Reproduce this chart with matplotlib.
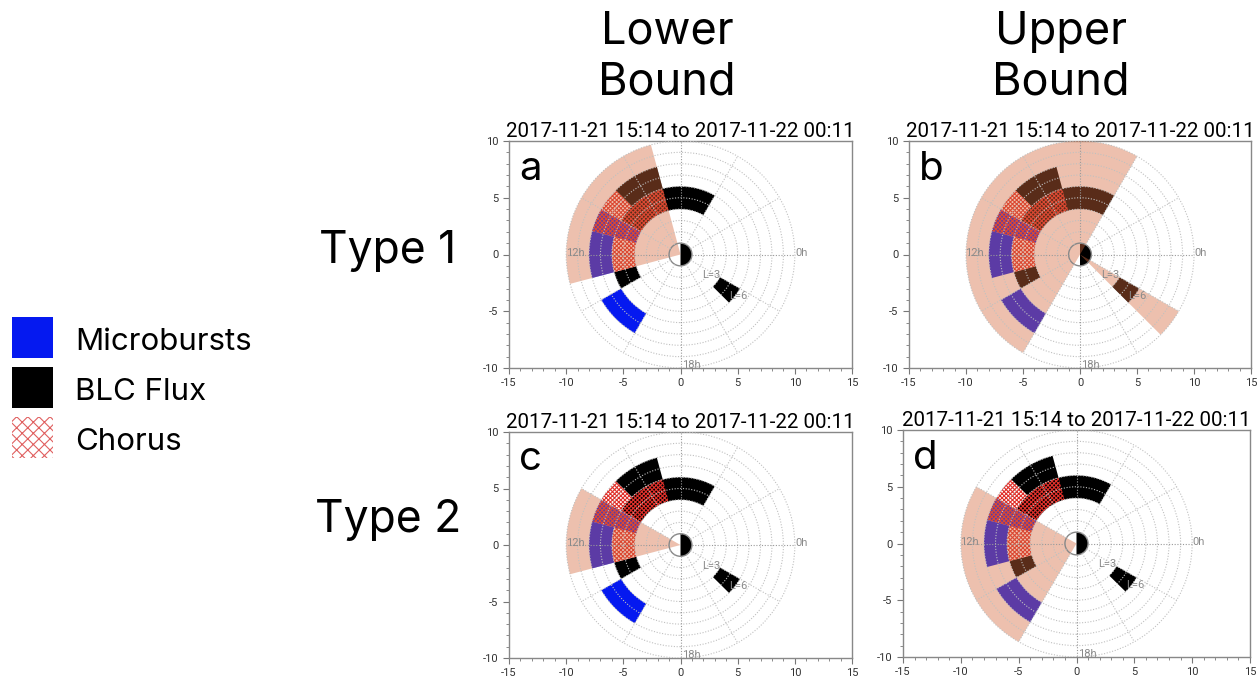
import matplotlib
matplotlib.use("Agg")
import matplotlib.pyplot as plt
from matplotlib.patches import Wedge, Rectangle, Circle
import numpy as np

# sectors are given as MLT start/end (hours) and L inner/outer
blc_mlt0 = [4, 7, 13, 21]
blc_mlt1 = [10, 9, 14, 22]
blc_l0 = [4, 6, 4, 4]
blc_l1 = [6, 8, 6, 6]

mb_mlt0 = [10, 11, 14]
mb_mlt1 = [11, 13, 16]
mb_l0 = [4, 6, 6]
mb_l1 = [8, 8, 8]

chorus_mlt0 = [7, 9]
chorus_mlt1 = [13, 11]
chorus_l0 = [4, 6]
chorus_l1 = [6, 8]

# MLT coverage of the conjunction window in each panel
cover_a = [(7, 13)]
cover_b = [(4, 16), (21, 22)]
cover_c = [(10, 13)]
cover_d = [(10, 16)]

panel_letters = ["a", "b", "c", "d"]
panel_title = "2017-11-21 15:14 to 2017-11-22 00:11"
col_titles = ["Lower\nBound", "Upper\nBound"]
row_titles = ["Type 1", "Type 2"]
legend_labels = ["Microbursts", "BLC Flux", "Chorus"]

BLUE = "#0519f0"
RED = "#e0302a"
TAN = (214 / 255, 107 / 255, 62 / 255)
GRID = "#c0c0c0"

plt.rcParams["axes.unicode_minus"] = False
plt.rcParams["hatch.linewidth"] = 0.8


def sector(ax, m0, m1, l0, l1, **kw):
    width = None if l0 == 0 else l1 - l0
    w = Wedge((0, 0), l1, m0 * 15, m1 * 15, width=width, **kw)
    ax.add_patch(w)


def dial(ax, cover, letter):
    for m0, m1, l0, l1 in zip(blc_mlt0, blc_mlt1, blc_l0, blc_l1):
        sector(ax, m0, m1, l0, l1, facecolor="black", edgecolor="none", zorder=2)
    for m0, m1, l0, l1 in zip(mb_mlt0, mb_mlt1, mb_l0, mb_l1):
        sector(ax, m0, m1, l0, l1, facecolor=BLUE, edgecolor="none", zorder=3)
    for m0, m1, l0, l1 in zip(chorus_mlt0, chorus_mlt1, chorus_l0, chorus_l1):
        sector(ax, m0, m1, l0, l1, facecolor="none", edgecolor=RED,
               linewidth=0, hatch="xxxxxxxx", zorder=4)
    # earth, night side dark
    sector(ax, 18, 30, 0, 1, facecolor="black", edgecolor="none", zorder=2)
    for m0, m1 in cover:
        sector(ax, m0, m1, 0, 10, facecolor=TAN, alpha=0.42,
               edgecolor="none", zorder=5)

    # polar grid
    for r in range(2, 11):
        ax.add_patch(Circle((0, 0), r, fill=False, edgecolor=GRID,
                            linestyle=(0, (1, 1.5)), linewidth=0.8, zorder=6))
    ax.add_patch(Circle((0, 0), 1, fill=False, edgecolor="#888888",
                        linewidth=1.0, zorder=6))
    for ang in range(0, 360, 30):
        t = np.deg2rad(ang)
        col = "#9a9a9a" if ang % 90 == 0 else GRID
        ax.plot([np.cos(t), 10 * np.cos(t)], [np.sin(t), 10 * np.sin(t)],
                color=col, linestyle=(0, (1, 1.5)), linewidth=0.8, zorder=6)

    lab = dict(color="#8a8a8a", fontsize=8, zorder=7, family="Roboto")
    ax.text(10.05, 0.15, "0h", ha="left", va="center", **lab)
    ax.text(-10.05, 0.15, "12h", ha="left", va="center", **lab)
    ax.text(0.1, -9.7, "18h", ha="left", va="center", **lab)
    t = np.deg2rad(-37.5)
    for L in (3, 6):
        ax.text(L * np.cos(t) + 0.3, L * np.sin(t), f"L={L}",
                ha="center", va="center", **lab)

    ax.text(0.03, 0.83, letter, transform=ax.transAxes, fontsize=29,
            family="Inter", va="baseline", ha="left", zorder=8)
    ax.set_title(panel_title, fontsize=14.8, family="Roboto", pad=3)

    ax.set_xlim(-15, 15)
    ax.set_ylim(-10, 10)
    ax.set_xticks(np.arange(-15, 16, 5))
    ax.set_yticks(np.arange(-10, 11, 5))
    ax.set_xticks(np.arange(-15, 16, 1), minor=True)
    ax.set_yticks(np.arange(-10, 11, 1), minor=True)
    ax.tick_params(which="both", direction="out", color="#777777",
                   labelsize=8, labelcolor="#333333")
    ax.tick_params(which="major", length=4)
    ax.tick_params(which="minor", length=2)
    for lbl in ax.get_xticklabels() + ax.get_yticklabels():
        lbl.set_family("Roboto")
    for s in ax.spines.values():
        s.set_color("#888888")
        s.set_linewidth(1.0)


fig = plt.figure(figsize=(12.6, 6.8), dpi=100)

# page-level axes in pixel units for the headings and key
page = fig.add_axes([0, 0, 1, 1])
page.set_xlim(0, 1260)
page.set_ylim(680, 0)
page.axis("off")

boxes = [
    [509 / 1260, 1 - 368 / 680, 343 / 1260, 227 / 680],
    [909 / 1260, 1 - 368 / 680, 342 / 1260, 227 / 680],
    [509 / 1260, 1 - 658 / 680, 343 / 1260, 226 / 680],
    [903 / 1260, 1 - 657 / 680, 347 / 1260, 227 / 680],
]
covers = [cover_a, cover_b, cover_c, cover_d]
for box, cover, letter in zip(boxes, covers, panel_letters):
    ax = fig.add_axes(box)
    dial(ax, cover, letter)

head = dict(fontsize=32.5, family="Inter", ha="center", va="center",
            multialignment="center", linespacing=1.25)
page.text(667, 57, col_titles[0], **head)
page.text(1061, 57, col_titles[1], **head)
page.text(388, 263, row_titles[0], fontsize=32, family="Inter",
          ha="center", va="baseline")
page.text(388, 532, row_titles[1], fontsize=32, family="Inter",
          ha="center", va="baseline")

key_y = [317, 367, 417]
page.add_patch(Rectangle((12, key_y[0]), 41, 41, facecolor=BLUE, edgecolor="none"))
page.add_patch(Rectangle((12, key_y[1]), 41, 41, facecolor="black", edgecolor="none"))
page.add_patch(Rectangle((12, key_y[2]), 41, 41, facecolor="white",
                         edgecolor="#e06060", linewidth=0, hatch="xxx"))
for y, txt in zip(key_y, legend_labels):
    page.text(75, y + 33, txt, fontsize=22.5, family="Inter",
              ha="left", va="baseline")

fig.savefig("out.png", dpi=100)
